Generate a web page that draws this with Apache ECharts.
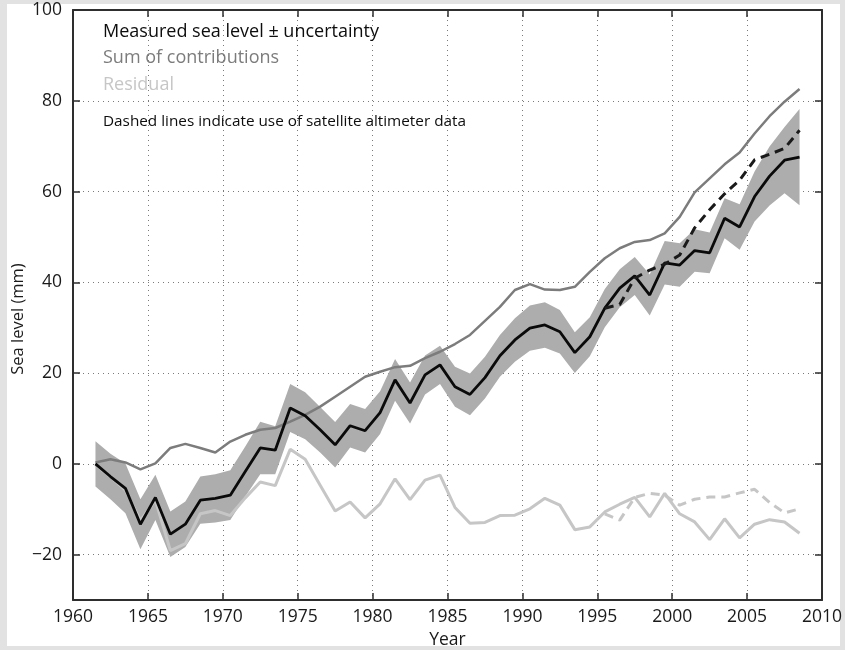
<!DOCTYPE html>
<html>
<head>
<meta charset="utf-8">
<title>Sea level budget</title>
<script src="https://cdn.jsdelivr.net/npm/echarts@6/dist/echarts.min.js"></script>
<style>
  html, body { margin: 0; padding: 0; background: #e2e2e2; }
  #frame { position: absolute; left: 7px; top: 4px; width: 833px; height: 642px; background: #ffffff; }
  #chart { position: absolute; left: 0; top: 0; width: 845px; height: 650px; }
</style>
</head>
<body>
<div id="frame"></div>
<div id="chart"></div>
<script>
// Annual mid-year sample times
const years = [1961.5, 1962.5, 1963.5, 1964.5, 1965.5, 1966.5, 1967.5, 1968.5, 1969.5, 1970.5,
  1971.5, 1972.5, 1973.5, 1974.5, 1975.5, 1976.5, 1977.5, 1978.5, 1979.5, 1980.5,
  1981.5, 1982.5, 1983.5, 1984.5, 1985.5, 1986.5, 1987.5, 1988.5, 1989.5, 1990.5,
  1991.5, 1992.5, 1993.5, 1994.5, 1995.5, 1996.5, 1997.5, 1998.5, 1999.5, 2000.5,
  2001.5, 2002.5, 2003.5, 2004.5, 2005.5, 2006.5, 2007.5, 2008.5];

// Measured sea level (mm), tide-gauge reconstruction
const measured = [0, -2.8, -5.4, -13.3, -7.4, -15.5, -13.3, -8, -7.6, -6.9,
  -1.7, 3.5, 3.0, 12.3, 10.6, 7.5, 4.2, 8.4, 7.3, 11.3,
  18.5, 13.4, 19.6, 21.8, 17, 15.3, 19, 23.8, 27.3, 29.9,
  30.6, 29.1, 24.5, 28, 34.3, 38.7, 41.4, 37.2, 44.3, 43.8,
  47, 46.5, 54.1, 52.2, 58.9, 63.4, 66.9, 67.6];

// Half-width of the uncertainty band (mm)
const uncertainty = [5, 5, 5.5, 5.5, 5, 5, 5, 5.2, 5.3, 5.5,
  5.5, 5.8, 5.3, 5.3, 5.2, 5, 5, 4.8, 4.8, 4.7,
  4.6, 4.5, 4.3, 4.2, 4.4, 4.6, 4.6, 4.6, 4.8, 5,
  5, 4.8, 4.5, 4.3, 4.2, 4.2, 4.2, 4.5, 4.8, 4.8,
  4.7, 4.5, 4.4, 5, 5.5, 6.5, 7.3, 10.6];

// Sum of contributions (mm)
const sumContrib = [0.3, 1, 0.3, -1.2, 0.1, 3.5, 4.4, 3.5, 2.5, 4.9,
  6.4, 7.5, 7.9, 9.3, 10.8, 12.6, 14.8, 17, 19.2, 20.3,
  21.3, 21.6, 23.3, 24.7, 26.4, 28.4, 31.5, 34.6, 38.3, 39.6,
  38.4, 38.3, 39, 42.3, 45.3, 47.5, 48.9, 49.3, 50.8, 54.4,
  59.8, 62.9, 66, 68.6, 72.8, 76.6, 79.8, 82.6];

// Residual (mm)
const residual = [-0.2, -2.8, -5.8, -12.5, -8, -19.1, -17.6, -11, -10.3, -11.4,
  -7.5, -4, -4.8, 3.2, 1, -4.7, -10.4, -8.4, -11.9, -8.8,
  -3.3, -7.9, -3.6, -2.5, -9.6, -13.1, -12.9, -11.4, -11.3, -9.9,
  -7.6, -9.1, -14.5, -13.9, -10.6, -8.9, -7.4, -11.7, -6.5, -11,
  -12.8, -16.7, -12.1, -16.3, -13.3, -12.3, -12.8, -15.3];

// Versions using satellite altimeter data
const altYears = [1995.5, 1996.5, 1997.5, 1998.5, 1999.5, 2000.5, 2001.5,
  2002.5, 2003.5, 2004.5, 2005.5, 2006.5, 2007.5, 2008.5];
const measuredAlt = [34.3, 35.1, 40.9, 42.7, 44, 46, 52, 56, 59.5, 62.5, 67, 68.2, 69.5, 73.5];
const residualAlt = [-11, -12.4, -7.4, -6.5, -6.9, -9.1, -7.8, -7.3, -7.3, -6.4, -5.6, -8.5, -10.8, -9.9];

// Axis ticks
const xTicks = [1960, 1965, 1970, 1975, 1980, 1985, 1990, 1995, 2000, 2005, 2010];
const yTicks = [-20, 0, 20, 40, 60, 80, 100];

const legendItems = ['Measured sea level \u00b1 uncertainty', 'Sum of contributions', 'Residual'];
const noteText = 'Dashed lines indicate use of satellite altimeter data';

const FONT = '"Open Sans", "Noto Sans", sans-serif';
const AXIS_COLOR = '#2e2e2e';
const TEXT_COLOR = '#1a1a1a';

const pairs = (xs, ys) => xs.map((x, i) => [x, ys[i]]);
// band rows: [year, lower, upper]
const bandRows = years.map((y, i) => [y, measured[i] - uncertainty[i], measured[i] + uncertainty[i]]);

const chart = echarts.init(document.getElementById('chart'), null, { renderer: 'canvas' });

// Draws the whole uncertainty envelope as one polygon in data coordinates
function renderBand(params, api) {
  if (params.dataIndex !== 0) return null;
  const upper = bandRows.map(r => api.coord([r[0], r[2]]));
  const lower = bandRows.map(r => api.coord([r[0], r[1]])).reverse();
  return {
    type: 'polygon',
    shape: { points: upper.concat(lower) },
    style: { fill: '#adadad', stroke: null }
  };
}

const xBase = {
  type: 'value', min: 1960, max: 2010, interval: 5,
  axisLine: { show: true, onZero: false, lineStyle: { color: AXIS_COLOR, width: 2 } },
  axisTick: { show: true, inside: true, length: 7, lineStyle: { color: AXIS_COLOR, width: 1.5 } }
};
const yBase = {
  type: 'value', min: -30, max: 100,
  axisLine: { show: true, onZero: false, lineStyle: { color: AXIS_COLOR, width: 2 } },
  axisTick: { show: true, inside: true, length: 7, customValues: yTicks, lineStyle: { color: AXIS_COLOR, width: 1.5 } }
};

chart.setOption({
  backgroundColor: 'transparent',
  animation: false,
  grid: { left: 73, right: 23, top: 10, bottom: 50, containLabel: false, outerBoundsMode: 'none' },
  xAxis: [
    Object.assign({}, xBase, {
      position: 'bottom',
      name: 'Year', nameLocation: 'middle', nameGap: 26,
      nameTextStyle: { fontFamily: FONT, fontSize: 17.5, color: TEXT_COLOR },
      axisLabel: { show: true, margin: 8, fontFamily: FONT, fontSize: 17.5, color: TEXT_COLOR,
        customValues: xTicks, formatter: v => String(v) },
      splitLine: { show: true, lineStyle: { color: '#7a7a7a', width: 1, type: [1, 4] } }
    }),
    Object.assign({}, xBase, {
      position: 'top',
      axisLabel: { show: false },
      splitLine: { show: false }
    })
  ],
  yAxis: [
    Object.assign({}, yBase, {
      position: 'left',
      axisLabel: { show: true, margin: 11, fontFamily: FONT, fontSize: 17.5, color: TEXT_COLOR,
        customValues: yTicks, formatter: v => (v < 0 ? '\u2212' + Math.abs(v) : String(v)) },
      splitLine: { show: true, lineStyle: { color: '#7a7a7a', width: 1, type: [1, 4] } }
    }),
    Object.assign({}, yBase, {
      position: 'right',
      axisLabel: { show: false },
      splitLine: { show: false }
    })
  ],
  series: [
    {
      name: 'uncertainty', type: 'custom', data: bandRows, renderItem: renderBand,
      silent: true, clip: true, z: 1,
      encode: { x: 0, y: [1, 2] }
    },
    {
      name: legendItems[2], type: 'line', data: pairs(years, residual), symbol: 'none',
      lineStyle: { color: '#c6c6c6', width: 3 }, z: 2
    },
    {
      name: legendItems[2] + ' (altimeter)', type: 'line', data: pairs(altYears, residualAlt), symbol: 'none',
      lineStyle: { color: '#c6c6c6', width: 3, type: [9, 6] }, z: 2
    },
    {
      name: legendItems[1], type: 'line', data: pairs(years, sumContrib), symbol: 'none',
      lineStyle: { color: '#7c7c7c', width: 2.5 }, z: 3
    },
    {
      name: legendItems[0], type: 'line', data: pairs(years, measured), symbol: 'none',
      lineStyle: { color: '#0a0a0a', width: 2.8 }, z: 4
    },
    {
      name: legendItems[0] + ' (altimeter)', type: 'line', data: pairs(altYears, measuredAlt), symbol: 'none',
      lineStyle: { color: '#1a1a1a', width: 3, type: [9, 6] }, z: 4
    }
  ],
  graphic: [
    { type: 'text', left: 103, top: 23, z: 10,
      style: { text: legendItems[0], fill: '#0d0d0d', font: '18px ' + FONT } },
    { type: 'text', left: 103, top: 49, z: 10,
      style: { text: legendItems[1], fill: '#7c7c7c', font: '18px ' + FONT } },
    { type: 'text', left: 103, top: 76, z: 10,
      style: { text: legendItems[2], fill: '#c6c6c6', font: '18px ' + FONT } },
    { type: 'text', left: 103, top: 114, z: 10,
      style: { text: noteText, fill: '#0d0d0d', font: '15.3px ' + FONT } },
    { type: 'text', x: 18, y: 319, rotation: Math.PI / 2, z: 10,
      style: { text: 'Sea level (mm)', fill: TEXT_COLOR, font: '16.5px ' + FONT,
        align: 'center', verticalAlign: 'middle' } }
  ]
});
</script>
</body>
</html>
